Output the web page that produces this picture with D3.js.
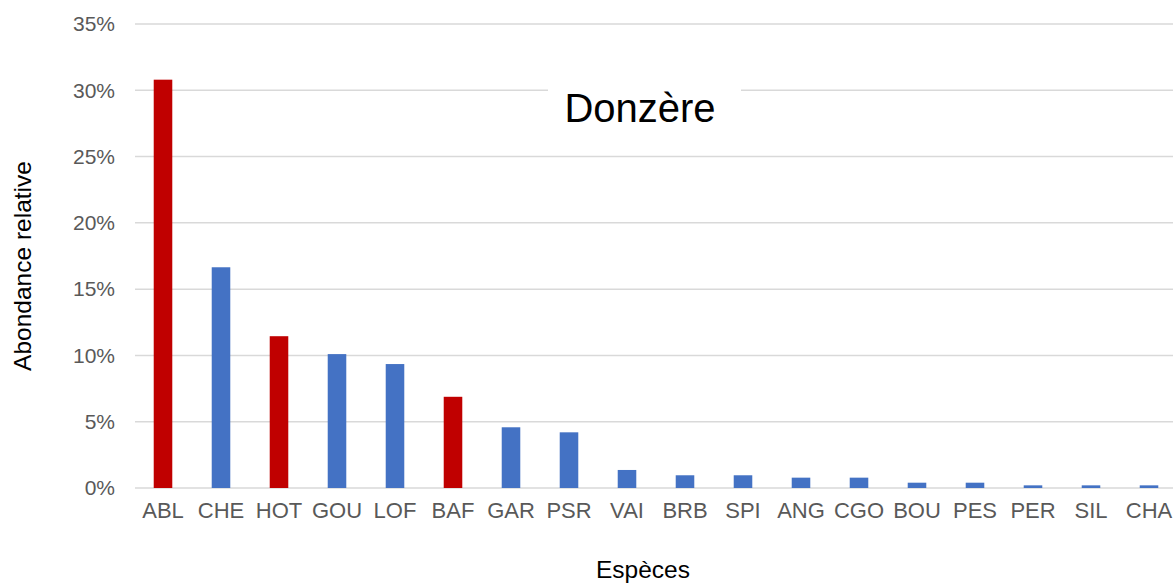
<!DOCTYPE html>
<html>
<head>
<meta charset="utf-8">
<script src="https://cdn.jsdelivr.net/npm/d3@7"></script>
<style>
  body { margin: 0; background: #fff; }
  svg { display: block; font-family: "Liberation Sans", Arial, sans-serif; }
</style>
</head>
<body>
<div id="chart"></div>
<script>
const width = 1173;
const height = 583;

const species = ["ABL", "CHE", "HOT", "GOU", "LOF", "BAF", "GAR", "PSR", "VAI",
                 "BRB", "SPI", "ANG", "CGO", "BOU", "PES", "PER", "SIL", "CHA"];
const abundance = [30.8, 16.65, 11.45, 10.1, 9.35, 6.88, 4.58, 4.2, 1.36,
                   0.96, 0.96, 0.78, 0.78, 0.4, 0.4, 0.2, 0.2, 0.2];
const highlighted = ["ABL", "HOT", "BAF"];
const yTicks = [0, 5, 10, 15, 20, 25, 30, 35];

const data = species.map((s, i) => ({ name: s, value: abundance[i] }));

const svg = d3.select("#chart")
  .append("svg")
  .attr("width", width)
  .attr("height", height);

const x = d3.scaleBand()
  .domain(species)
  .range([134, 1178])
  .paddingInner(0.68)
  .paddingOuter(0.34);

const y = d3.scaleLinear()
  .domain([0, 35])
  .range([488, 24]);

// gridlines
svg.append("g")
  .selectAll("line")
  .data(yTicks)
  .join("line")
  .attr("x1", 135)
  .attr("x2", width)
  .attr("y1", d => y(d))
  .attr("y2", d => y(d))
  .attr("stroke", "#d9d9d9")
  .attr("stroke-width", 1.5);

// y axis labels
const yAxis = svg.append("g")
  .attr("transform", "translate(115,0)")
  .call(d3.axisLeft(y).tickValues(yTicks).tickFormat(d => d + "%").tickSize(0).tickPadding(0));
yAxis.select(".domain").remove();
yAxis.selectAll("text")
  .attr("fill", "#595959")
  .style("font-size", "21px")
  .style("font-family", "'Liberation Sans', Arial, sans-serif");

// bars
svg.append("g")
  .selectAll("rect")
  .data(data)
  .join("rect")
  .attr("x", d => x(d.name))
  .attr("y", d => y(d.value))
  .attr("width", x.bandwidth())
  .attr("height", d => y(0) - y(d.value))
  .attr("fill", d => highlighted.includes(d.name) ? "#c00000" : "#4472c4");

// x axis labels
const xAxis = svg.append("g")
  .attr("transform", "translate(0,502)")
  .call(d3.axisBottom(x).tickSize(0).tickPadding(0));
xAxis.select(".domain").remove();
xAxis.selectAll("text")
  .attr("fill", "#595959")
  .style("font-size", "22px")
  .style("font-family", "'Liberation Sans', Arial, sans-serif");

// title with white box over gridline
svg.append("rect")
  .attr("x", 548)
  .attr("y", 72)
  .attr("width", 193)
  .attr("height", 60)
  .attr("fill", "#fff");
svg.append("text")
  .attr("x", 640)
  .attr("y", 122)
  .attr("text-anchor", "middle")
  .attr("fill", "#000")
  .style("font-size", "40px")
  .text("Donzère");

// axis titles
svg.append("text")
  .attr("transform", "translate(31,266) rotate(-90)")
  .attr("text-anchor", "middle")
  .attr("fill", "#000")
  .style("font-size", "24.5px")
  .text("Abondance relative");

svg.append("text")
  .attr("x", 643)
  .attr("y", 578)
  .attr("text-anchor", "middle")
  .attr("fill", "#000")
  .style("font-size", "24.5px")
  .text("Espèces");
</script>
</body>
</html>
